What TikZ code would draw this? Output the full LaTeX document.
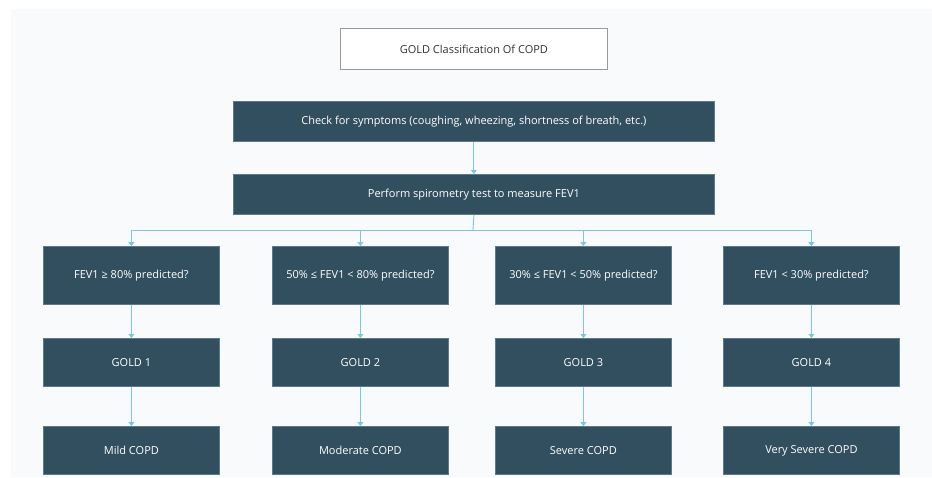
\documentclass[tikz,border=0pt]{standalone}
\usepackage{fontspec}
\setmainfont{Open Sans}
\usetikzlibrary{arrows.meta}
\definecolor{bgc}{HTML}{F9FAFC}
\definecolor{boxc}{HTML}{324F60}
\definecolor{boxb}{HTML}{5E7A88}
\definecolor{arrc}{HTML}{7CC6E2}
\definecolor{titleb}{HTML}{9A9A9A}
\begin{document}
\begin{tikzpicture}[x=1pt,y=-1pt,
  darkbox/.style={draw=boxb,line width=0.8pt,fill=boxc,text=white,font=\fontsize{11}{13}\selectfont,inner sep=0pt,anchor=north west},
  titlebox/.style={draw=titleb,line width=0.8pt,fill=white,text=black!80,font=\fontsize{11}{13}\selectfont,inner sep=0pt,anchor=north west},
  conn/.style={draw=arrc,line width=0.9pt,-{Triangle[width=6pt,length=4pt]}},
  plain/.style={draw=arrc,line width=0.9pt}]
\useasboundingbox (0,0) rectangle (932,477);
\fill[white] (0,0) rectangle (932,477);
\fill[bgc] (11,9) rectangle (932,477);
\node[titlebox,minimum width=267pt,minimum height=41pt] (title) at (340,28) {GOLD Classification Of COPD};
\node[darkbox,minimum width=481pt,minimum height=40pt] (sym) at (233,101) {Check for symptoms (coughing, wheezing, shortness of breath, etc.)};
\node[darkbox,minimum width=481pt,minimum height=40pt] (spi) at (233,174) {Perform spirometry test to measure FEV1};
\foreach \i/\x/\q/\g/\s in {1/43/{FEV1 ≥ 80\% predicted?}/{GOLD 1}/{Mild COPD},
  2/272/{50\% ≤ FEV1 < 80\% predicted?}/{GOLD 2}/{Moderate COPD},
  3/495/{30\% ≤ FEV1 < 50\% predicted?}/{GOLD 3}/{Severe COPD},
  4/723/{FEV1 < 30\% predicted?}/{GOLD 4}/{Very Severe COPD}}{
  \node[darkbox,minimum width=176pt,minimum height=58pt] (q\i) at (\x,246) {\q};
  \node[darkbox,minimum width=176pt,minimum height=48pt] (g\i) at (\x,338) {\g};
  \node[darkbox,minimum width=176pt,minimum height=48pt] (s\i) at (\x,426) {\s};
  \draw[conn] (q\i.south) -- (g\i.north);
  \draw[conn] (g\i.south) -- (s\i.north);
}
\draw[conn] (sym.south) -- (spi.north);
\coordinate (br) at (473,230);
\draw[plain] (spi.south) -- (br);
\foreach \i in {1,2,3,4}{
  \draw[conn] (br) -| (q\i.north);
}
\end{tikzpicture}
\end{document}
